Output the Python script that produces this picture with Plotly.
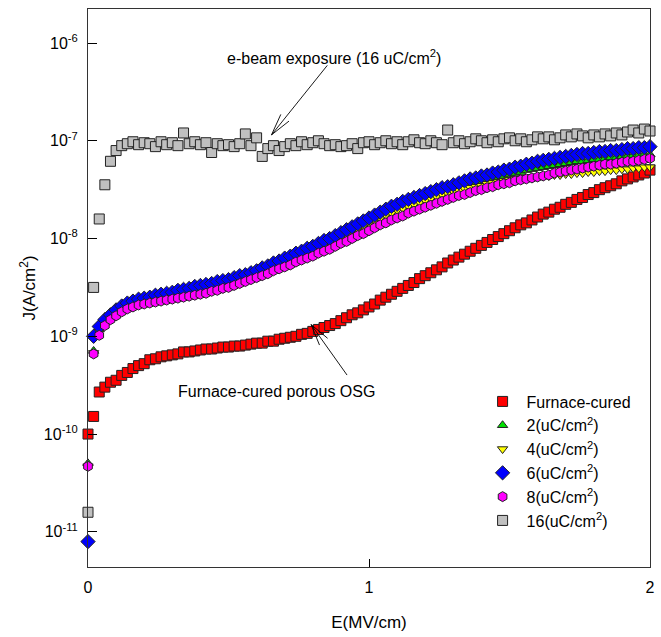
import plotly.graph_objects as go

# Field grid (MV/cm)
E = [round(i * 0.02, 2) for i in range(101)]

# log10 of J (A/cm^2)
red_log10J = [
 -10.00, -9.82, -9.57, -9.52, -9.47, -9.45, -9.40, -9.37, -9.33, -9.30,
 -9.28, -9.24, -9.23, -9.21, -9.20, -9.19, -9.18, -9.16, -9.16, -9.15,
 -9.14, -9.13, -9.13, -9.12, -9.11, -9.11, -9.10, -9.10, -9.09, -9.08,
 -9.07, -9.07, -9.05, -9.05, -9.03, -9.02, -9.01, -9.00, -8.98, -8.97,
 -8.95, -8.93, -8.91, -8.89, -8.87, -8.84, -8.81, -8.78, -8.76, -8.73,
 -8.70, -8.67, -8.63, -8.60, -8.57, -8.54, -8.51, -8.48, -8.45, -8.41,
 -8.38, -8.35, -8.32, -8.29, -8.25, -8.22, -8.19, -8.16, -8.13, -8.10,
 -8.07, -8.04, -8.01, -7.98, -7.95, -7.92, -7.89, -7.86, -7.84, -7.81,
 -7.78, -7.75, -7.73, -7.70, -7.68, -7.65, -7.63, -7.60, -7.58, -7.55,
 -7.53, -7.50, -7.48, -7.46, -7.44, -7.41, -7.39, -7.37, -7.35, -7.33,
 -7.30]

green_log10J = [
 -10.30, -9.15, -8.93, -8.86, -8.81, -8.76, -8.72, -8.69, -8.67, -8.65,
 -8.64, -8.63, -8.61, -8.60, -8.59, -8.58, -8.56, -8.55, -8.54, -8.52,
 -8.51, -8.50, -8.49, -8.47, -8.46, -8.45, -8.43, -8.41, -8.40, -8.38,
 -8.36, -8.33, -8.31, -8.28, -8.26, -8.23, -8.21, -8.18, -8.16, -8.13,
 -8.11, -8.08, -8.05, -8.03, -8.00, -7.97, -7.94, -7.91, -7.88, -7.85,
 -7.82, -7.79, -7.76, -7.74, -7.71, -7.69, -7.66, -7.64, -7.62, -7.60,
 -7.58, -7.56, -7.54, -7.52, -7.51, -7.49, -7.47, -7.46, -7.44, -7.43,
 -7.41, -7.40, -7.38, -7.37, -7.36, -7.34, -7.33, -7.32, -7.30, -7.29,
 -7.28, -7.27, -7.26, -7.25, -7.24, -7.23, -7.22, -7.21, -7.21, -7.20,
 -7.19, -7.19, -7.18, -7.17, -7.17, -7.16, -7.16, -7.15, -7.15, -7.14,
 -7.14]

yellow_log10J = [
 -10.33, -9.17, -8.95, -8.87, -8.82, -8.77, -8.73, -8.70, -8.68, -8.66,
 -8.65, -8.64, -8.62, -8.61, -8.60, -8.59, -8.57, -8.56, -8.55, -8.53,
 -8.52, -8.51, -8.50, -8.48, -8.47, -8.46, -8.44, -8.42, -8.41, -8.39,
 -8.37, -8.34, -8.32, -8.30, -8.27, -8.25, -8.22, -8.20, -8.17, -8.15,
 -8.12, -8.10, -8.07, -8.04, -8.02, -7.99, -7.96, -7.93, -7.90, -7.87,
 -7.84, -7.81, -7.79, -7.76, -7.74, -7.71, -7.69, -7.67, -7.65, -7.63,
 -7.61, -7.59, -7.57, -7.55, -7.54, -7.52, -7.51, -7.49, -7.48, -7.47,
 -7.46, -7.44, -7.43, -7.42, -7.41, -7.40, -7.39, -7.39, -7.38, -7.37,
 -7.37, -7.36, -7.36, -7.35, -7.35, -7.34, -7.34, -7.33, -7.33, -7.32,
 -7.32, -7.31, -7.31, -7.30, -7.30, -7.29, -7.29, -7.28, -7.28, -7.27,
 -7.27]

blue_log10J = [
 -11.10, -9.00, -8.90, -8.83, -8.78, -8.73, -8.69, -8.66, -8.64, -8.62,
 -8.61, -8.60, -8.58, -8.57, -8.56, -8.55, -8.53, -8.52, -8.51, -8.49,
 -8.48, -8.47, -8.46, -8.44, -8.43, -8.42, -8.40, -8.38, -8.37, -8.35,
 -8.33, -8.30, -8.28, -8.25, -8.23, -8.20, -8.18, -8.15, -8.13, -8.10,
 -8.08, -8.05, -8.02, -8.00, -7.97, -7.94, -7.91, -7.88, -7.85, -7.82,
 -7.79, -7.76, -7.73, -7.70, -7.67, -7.65, -7.62, -7.60, -7.58, -7.56,
 -7.54, -7.52, -7.50, -7.48, -7.47, -7.45, -7.43, -7.41, -7.39, -7.38,
 -7.36, -7.35, -7.33, -7.32, -7.30, -7.29, -7.27, -7.26, -7.24, -7.23,
 -7.21, -7.20, -7.19, -7.18, -7.17, -7.16, -7.15, -7.14, -7.13, -7.13,
 -7.12, -7.11, -7.11, -7.10, -7.10, -7.09, -7.08, -7.08, -7.07, -7.07,
 -7.06]

magenta_log10J = [
 -10.33, -9.18, -8.99, -8.89, -8.83, -8.79, -8.75, -8.72, -8.70, -8.68,
 -8.67, -8.66, -8.65, -8.64, -8.63, -8.62, -8.61, -8.60, -8.59, -8.58,
 -8.57, -8.56, -8.54, -8.53, -8.51, -8.50, -8.48, -8.46, -8.44, -8.42,
 -8.40, -8.38, -8.36, -8.33, -8.31, -8.29, -8.27, -8.24, -8.22, -8.20,
 -8.18, -8.15, -8.13, -8.11, -8.08, -8.05, -8.03, -8.00, -7.97, -7.95,
 -7.92, -7.89, -7.86, -7.84, -7.81, -7.79, -7.77, -7.74, -7.72, -7.70,
 -7.68, -7.66, -7.64, -7.62, -7.60, -7.58, -7.56, -7.55, -7.53, -7.51,
 -7.50, -7.48, -7.47, -7.45, -7.44, -7.43, -7.41, -7.40, -7.39, -7.38,
 -7.37, -7.36, -7.35, -7.33, -7.32, -7.31, -7.30, -7.29, -7.28, -7.27,
 -7.26, -7.25, -7.24, -7.24, -7.23, -7.22, -7.21, -7.21, -7.20, -7.19,
 -7.18]

gray_log10J = [
 -10.80, -8.50, -7.80, -7.45, -7.21, -7.10, -7.05, -7.03, -7.01, -7.04,
 -7.02, -7.03, -7.06, -7.01, -7.04, -7.02, -7.05, -6.92, -7.03, -7.01,
 -7.04, -7.02, -7.12, -7.03, -7.05, -7.04, -7.06, -7.03, -6.93, -7.05,
 -6.97, -7.16, -7.08, -7.05, -7.10, -7.06, -7.03, -7.05, -7.01, -7.04,
 -7.02, -7.00, -7.03, -7.05, -7.04, -7.06, -7.05, -7.03, -7.08, -7.02,
 -7.01, -7.04, -7.02, -7.00, -7.03, -7.01, -7.04, -7.01, -6.99, -7.02,
 -7.03, -7.00, -7.02, -7.04, -6.89, -7.02, -7.00, -7.03, -7.01, -6.98,
 -7.00, -7.02, -6.99, -7.01, -6.98, -6.97, -7.00, -6.98, -7.01, -6.99,
 -6.96, -6.98, -6.96, -6.99, -6.97, -6.94, -6.96, -6.93, -6.95, -6.97,
 -6.94, -6.96, -6.93, -6.95, -6.92, -6.94, -6.91, -6.89, -6.92, -6.88,
 -6.90]

series = [
    ("Furnace-cured", red_log10J, "square", "#ff0000", 10),
    ("2(uC/cm<sup>2</sup>)", green_log10J, "triangle-up", "#00e000", 9),
    ("4(uC/cm<sup>2</sup>)", yellow_log10J, "triangle-down", "#ffff00", 9),
    ("6(uC/cm<sup>2</sup>)", blue_log10J, "diamond", "#0000ff", 11),
    ("8(uC/cm<sup>2</sup>)", magenta_log10J, "hexagon", "#ff00ff", 10),
    ("16(uC/cm<sup>2</sup>)", gray_log10J, "square", "#c0c0c0", 10),
]

y_tickvals = [1e-11, 1e-10, 1e-9, 1e-8, 1e-7, 1e-6]
y_ticktext = ["10<sup>-11</sup>", "10<sup>-10</sup>", "10<sup>-9</sup>",
              "10<sup>-8</sup>", "10<sup>-7</sup>", "10<sup>-6</sup>"]
x_tickvals = [0, 1, 2]

FONT = "Liberation Sans, Arial, sans-serif"

fig = go.Figure()
for i, (name, vals, sym, col, sz) in enumerate(series):
    fig.add_trace(go.Scatter(
        x=E, y=[10 ** v for v in vals], mode="markers", name=name,
        legendgroup=str(i),
        marker=dict(symbol=sym, color=col, size=sz,
                    line=dict(color="#222222", width=1)),
        cliponaxis=False,
    ))

fig.update_layout(
    width=661, height=637,
    margin=dict(l=88, r=6, t=9, b=70),
    paper_bgcolor="white", plot_bgcolor="white",
    font=dict(family=FONT, size=16, color="black"),
    showlegend=True,
    legend=dict(x=0.695, y=0.327, xanchor="left", yanchor="top",
                font=dict(family=FONT, size=16, color="black"),
                bgcolor="rgba(0,0,0,0)", tracegroupgap=0,
                itemsizing="trace", itemwidth=38),
    xaxis=dict(range=[0, 2], tickvals=x_tickvals, ticktext=["0", "1", "2"],
               ticks="inside", ticklen=8, tickcolor="black",
               showgrid=False, zeroline=False,
               showline=True, linecolor="#333333", linewidth=1, mirror=True,
               ticklabelstandoff=6, tickfont=dict(size=16),
               title=dict(text="E(MV/cm)", font=dict(size=17), standoff=20)),
    yaxis=dict(type="log", range=[-11.36, -5.652],
               tickvals=y_tickvals, ticktext=y_ticktext,
               ticks="inside", ticklen=9, tickcolor="black",
               showgrid=False, zeroline=False,
               showline=True, linecolor="#333333", linewidth=1, mirror=True,
               ticklabelstandoff=6, tickfont=dict(size=16),
               title=dict(text="J(A/cm<sup>2</sup>)", font=dict(size=17), standoff=3)),
)

ann_font = dict(family=FONT, size=16, color="black")
fig.add_annotation(x=0.877, y=-6.14, xref="x", yref="y",
                   text="e-beam exposure (16 uC/cm<sup>2</sup>)", showarrow=False,
                   font=ann_font)
fig.add_annotation(x=0.671, y=-9.56, xref="x", yref="y",
                   text="Furnace-cured porous OSG", showarrow=False,
                   font=ann_font)

# arrows: shaft + two head strokes from the tip
arrows = [
    (0.653, -6.94, [(57, -71), (10, -22), (19, -15)]),
    (0.794, -8.88, [(37, 52), (18, 15), (9, 22)]),
]
for ax_x, ax_y, strokes in arrows:
    for dx, dy in strokes:
        fig.add_annotation(x=ax_x, y=ax_y, xref="x", yref="y", text="",
                           showarrow=True, ax=dx, ay=dy, arrowhead=0,
                           arrowwidth=0.9, arrowcolor="black", standoff=0)

fig.write_html(
    "out.html",
    config={"displayModeBar": False},
    post_script="document.body.style.margin='0px';"
                "document.body.style.overflow='hidden';",
)
